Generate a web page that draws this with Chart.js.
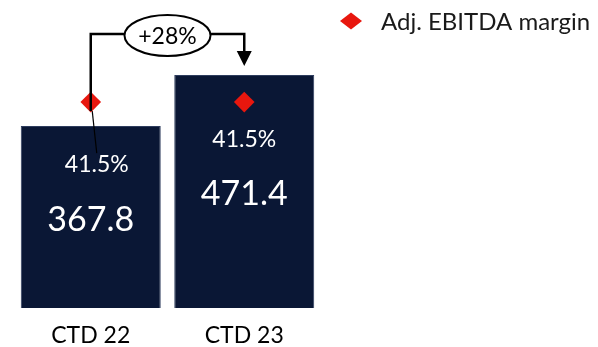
<!DOCTYPE html>
<html><head><meta charset="utf-8">
<script src="https://cdn.jsdelivr.net/npm/chart.js@4"></script>
<style>html,body{margin:0;padding:0;background:#fff}#wrap{width:598px;height:347px}</style>
</head><body><div id="wrap"><canvas id="c" width="598" height="347"></canvas></div>
<script>
const categories = ['CTD 22', 'CTD 23'];
const revenue = [367.8, 471.4];
const marginPct = [41.5, 41.5];
const growthLabel = '+28%';
const seriesLabel = 'Adj. EBITDA margin';
const revenueAxisMax = 602;
const marginAxisMax = 60;

const FONT = 'Lato, "Open Sans", sans-serif';
const NAVY = '#0a1735';
const RED = '#e8170e';

const overlay = {
  id: 'overlay',
  afterDatasetsDraw(chart) {
    const ctx = chart.ctx;
    const bars = chart.getDatasetMeta(0).data;
    const pts = chart.getDatasetMeta(1).data;
    ctx.save();
    ctx.textAlign = 'center';
    ctx.textBaseline = 'alphabetic';
    // labels inside bars
    bars.forEach((b, i) => {
      const mid = (b.y + b.base) / 2;
      ctx.fillStyle = '#ffffff';
      ctx.font = '34px ' + FONT;
      ctx.fillText(revenue[i].toFixed(1), b.x, mid + 1.5 + 0.36 * 34);
      ctx.font = '23px ' + FONT;
      ctx.fillText(marginPct[i].toFixed(1) + '%', b.x + (i === 0 ? 6 : 0), mid - 53 + 0.36 * 23);
    });
    // growth connector
    const yTop = 34;
    const x1 = bars[0].x, x2 = bars[1].x;
    const cx = (x1 + x2) / 2, rx = 43, ry = 20.5;
    ctx.strokeStyle = '#000';
    ctx.lineWidth = 2.5;
    ctx.beginPath();
    ctx.moveTo(x1, pts[0].y + 9);
    ctx.lineTo(x1, yTop);
    ctx.lineTo(cx - rx, yTop);
    ctx.moveTo(cx + rx, yTop);
    ctx.lineTo(x2, yTop);
    const tipY = bars[1].y - 9;
    ctx.lineTo(x2, tipY - 14);
    ctx.stroke();
    ctx.beginPath();
    ctx.moveTo(x2 - 7.5, tipY - 15);
    ctx.lineTo(x2 + 7.5, tipY - 15);
    ctx.lineTo(x2, tipY);
    ctx.closePath();
    ctx.fillStyle = '#000';
    ctx.fill();
    ctx.beginPath();
    ctx.ellipse(cx, yTop + 1.5, rx, ry, 0, 0, Math.PI * 2);
    ctx.fillStyle = '#fff';
    ctx.fill();
    ctx.lineWidth = 2;
    ctx.stroke();
    ctx.fillStyle = '#000';
    ctx.font = '23px ' + FONT;
    ctx.fillText(growthLabel, cx, yTop + 1.5 + 0.36 * 23);
    // thin leader line
    ctx.lineWidth = 1.2;
    ctx.beginPath();
    ctx.moveTo(x1 + 1.5, pts[0].y + 9);
    ctx.lineTo(x1 + 6, bars[0].y + 27);
    ctx.stroke();
    // legend
    const lx = chart.chartArea.right + 30, ly = 21;
    ctx.fillStyle = RED;
    ctx.beginPath();
    ctx.moveTo(lx - 11, ly);
    ctx.lineTo(lx, ly - 8.5);
    ctx.lineTo(lx + 11, ly);
    ctx.lineTo(lx, ly + 8.5);
    ctx.closePath();
    ctx.fill();
    ctx.fillStyle = '#1a1a1a';
    ctx.textAlign = 'left';
    ctx.font = '24px ' + FONT;
    ctx.fillText(seriesLabel, lx + 30, ly + 0.36 * 24);
    ctx.restore();
  }
};

new Chart(document.getElementById('c'), {
  data: {
    labels: categories,
    datasets: [
      {
        type: 'bar',
        label: 'Revenue',
        data: revenue,
        backgroundColor: NAVY,
        borderColor: '#2e3d5e',
        borderWidth: 1,
        barPercentage: 0.912,
        categoryPercentage: 1,
        yAxisID: 'y',
        order: 2
      },
      {
        type: 'line',
        label: seriesLabel,
        data: marginPct,
        showLine: false,
        pointStyle: 'rectRot',
        pointRadius: 10.3,
        pointBackgroundColor: RED,
        pointBorderWidth: 0,
        yAxisID: 'y1',
        order: 1
      }
    ]
  },
  options: {
    responsive: false,
    devicePixelRatio: 1,
    animation: false,
    events: [],
    layout: { padding: { left: 14, right: 277, top: 10, bottom: 0 } },
    plugins: { legend: { display: false }, tooltip: { enabled: false } },
    scales: {
      x: {
        grid: { display: false, drawTicks: false },
        border: { display: false },
        ticks: { color: '#000', font: { family: FONT, size: 23, lineHeight: 1 }, padding: 16 },
        afterFit(scale) { scale.height = 39; }
      },
      y: { display: false, min: 0, max: revenueAxisMax },
      y1: { display: false, min: 0, max: marginAxisMax, position: 'right' }
    }
  },
  plugins: [overlay]
});
</script>
</body></html>
